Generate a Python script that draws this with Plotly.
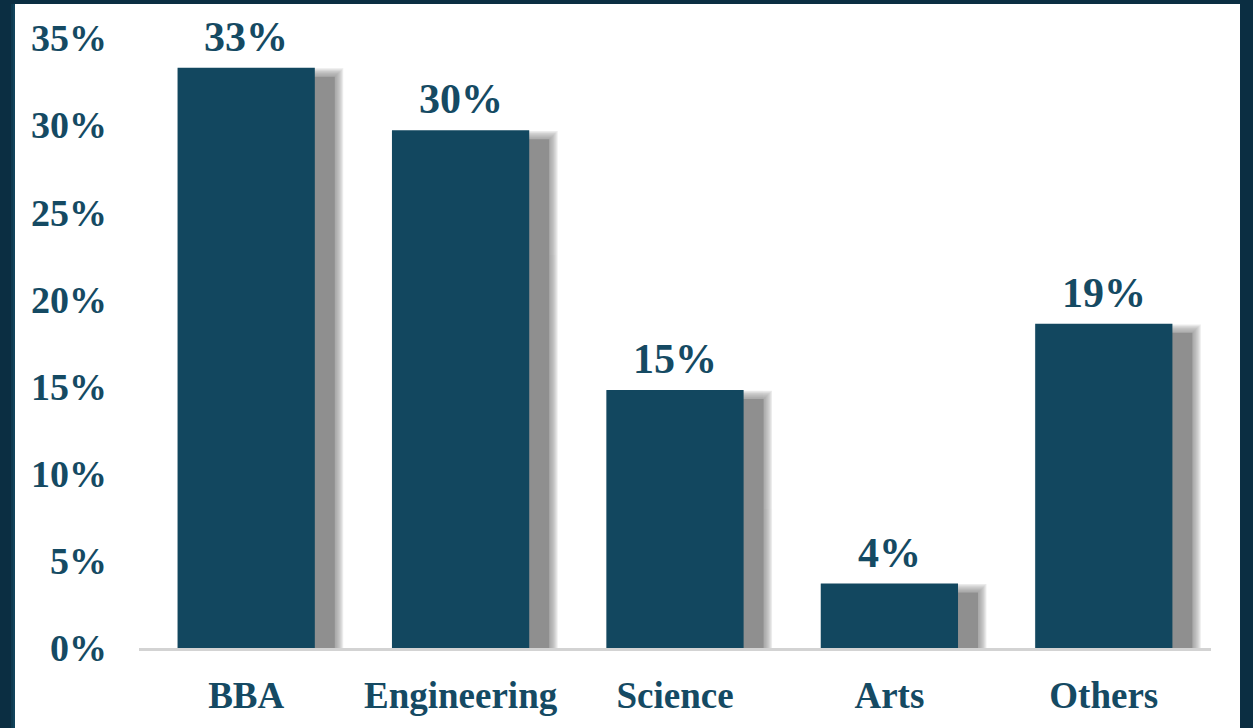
import plotly.graph_objects as go

categories = ["BBA", "Engineering", "Science", "Arts", "Others"]
values = [33.3, 29.7, 14.8, 3.7, 18.6]
y_tick_values = [0, 5, 10, 15, 20, 25, 30, 35]
y_tick_labels = ["0%", "5%", "10%", "15%", "20%", "25%", "30%", "35%"]

BAR = "#12475f"
TXT = "#154a63"
FONT = "Liberation Serif"
FRAME = "#0b2e42"

W, H = 1253, 728
ML, MR, MT, MB = 139, 42, 38, 80
PW = W - ML - MR
PH = H - MT - MB
px_x = 1.0 / (PW / len(categories))   # category units per pixel
px_y = 35.0 / PH                        # value units per pixel

bar_w = 0.64
fig = go.Figure()

# shadow (blurred, offset right/down)
shadow_drop = 9 * px_y
core_l, core_r = 8 * px_x, 20 * px_x
for k in range(7, 0, -1):
    e = k * 1.2
    fig.add_trace(go.Bar(
        x=categories, y=[v - shadow_drop + e * px_y for v in values],
        offset=-bar_w / 2 + core_l - e * px_x,
        width=bar_w - core_l + core_r + 2 * e * px_x,
        marker=dict(color="#8f8f8f", line=dict(width=0)), opacity=0.17,
        hoverinfo="skip", showlegend=False))
fig.add_trace(go.Bar(
    x=categories, y=[v - shadow_drop for v in values],
    offset=-bar_w / 2 + core_l, width=bar_w - core_l + core_r,
    marker=dict(color="#8f8f8f", line=dict(width=0)),
    hoverinfo="skip", showlegend=False))

# main bars
fig.add_trace(go.Bar(
    x=categories, y=values, width=bar_w,
    marker=dict(color=BAR, line=dict(width=0)),
    showlegend=False))

for c, v in zip(categories, values):
    fig.add_annotation(x=c, y=v, text=f"{v:.0f}%", showarrow=False,
                       yanchor="bottom", yshift=6,
                       font=dict(family=FONT, size=42, color=TXT, weight="bold"))

# white panel over dark frame
panel_top = (PH + MT - 4) / PH
fig.add_shape(type="rect", xref="paper", yref="paper", layer="below",
              x0=(15 - ML) / PW, x1=(1240 - ML) / PW,
              y0=-0.3, y1=panel_top,
              fillcolor="white", line=dict(width=0))
# slight gradient on left frame
for i, col in enumerate(["#0e3a50", "#11435b"]):
    fig.add_shape(type="rect", xref="paper", yref="paper", layer="below",
                  x0=(15 - 4 + 2 * i - ML) / PW, x1=(15 - ML) / PW,
                  y0=-0.3, y1=panel_top,
                  fillcolor=col, line=dict(width=0))

fig.update_layout(
    width=W, height=H,
    margin=dict(l=ML, r=MR, t=MT, b=MB, pad=0),
    paper_bgcolor=FRAME, plot_bgcolor="white",
    barmode="overlay", bargap=0.36,
    font=dict(family=FONT, color=TXT, size=37, weight="bold"),
    xaxis=dict(showgrid=False, zeroline=False, showline=True,
               linecolor="#d3d3d3", linewidth=3, ticks="",
               tickfont=dict(family=FONT, size=37, color=TXT, weight="bold"),
               ticklabelstandoff=13, fixedrange=True),
    yaxis=dict(range=[0, 35], showgrid=False, zeroline=False, showline=False,
               tickvals=y_tick_values, ticktext=y_tick_labels, ticks="",
               tickfont=dict(family=FONT, size=38, color=TXT, weight="bold"),
               ticklabelstandoff=31, fixedrange=True),
)

fig.write_html(
    "out.html",
    config={"displayModeBar": False},
    post_script="document.body.style.margin='0';document.body.style.background='%s';" % FRAME,
)
